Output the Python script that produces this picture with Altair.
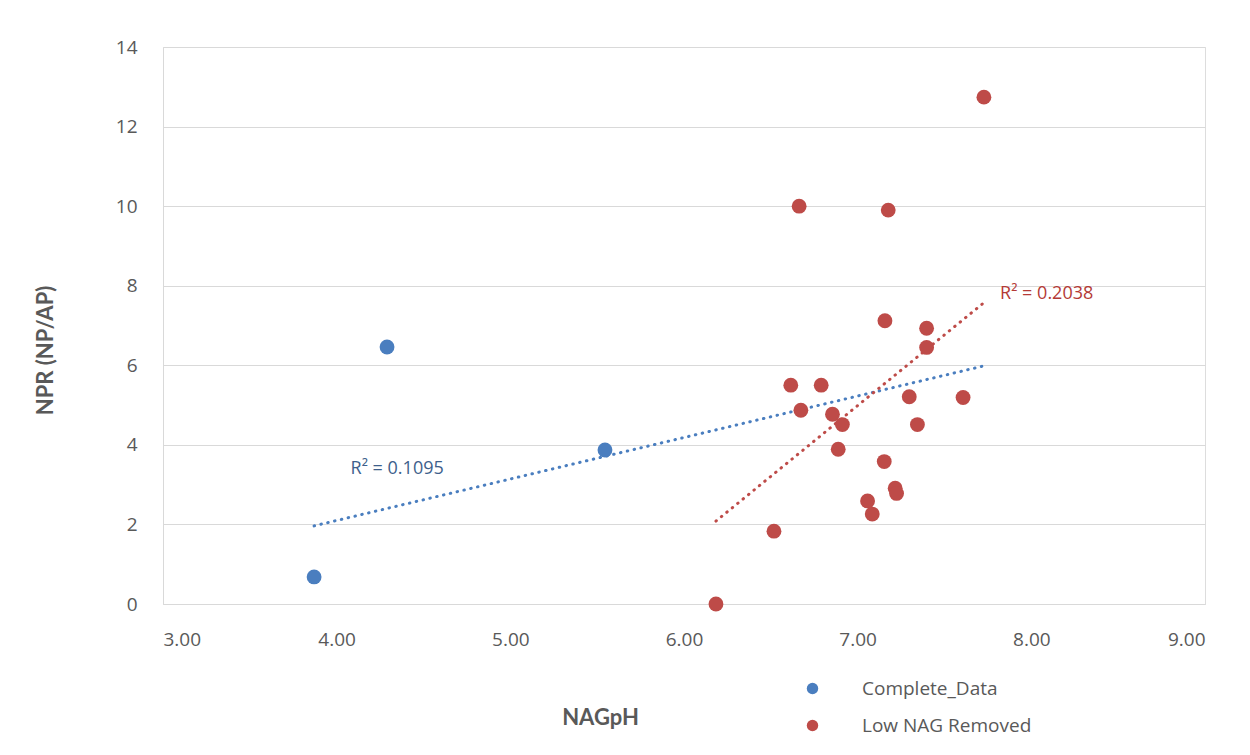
import altair as alt
import pandas as pd

# Complete_Data points visible in blue (the low-NAG samples)
blue_x = [3.87, 4.29, 5.545]
blue_y = [0.68, 6.46, 3.87]

# Low NAG Removed points (red)
red_x = [6.663, 7.176, 7.157, 7.397, 7.397, 7.727, 6.615, 6.790, 6.673, 6.855, 6.912,
         6.888, 7.297, 7.607, 7.344, 7.153, 7.216, 7.224, 7.057, 7.084, 6.518, 6.184]
red_y = [10.0, 9.9, 7.12, 6.93, 6.45, 12.74, 5.50, 5.50, 4.87, 4.77, 4.51,
         3.89, 5.21, 5.19, 4.51, 3.58, 2.91, 2.78, 2.59, 2.26, 1.83, 0.0]

series_names = ["Complete_Data", "Low NAG Removed"]
series_colors = ["#4A7EBF", "#BE4B48"]

label_text = ["R² = 0.1095", "R² = 0.2038"]
label_x = [4.08, 7.82]
label_y = [3.4, 7.8]
label_color = ["#3E5F8C", "#B43A36"]

pts = pd.DataFrame({
    "NAGpH": blue_x + red_x,
    "NPR": blue_y + red_y,
    "series": [series_names[0]] * len(blue_x) + [series_names[1]] * len(red_x),
})
labels = pd.DataFrame({"t": label_text, "x": label_x, "y": label_y, "c": label_color})

FONT = "Open Sans"
GRAY = "#595959"

xscale = alt.Scale(domain=[3, 9], nice=False, zero=False)
yscale = alt.Scale(domain=[0, 14], nice=False)

base = alt.Chart(pts)

points = base.mark_circle(size=220, opacity=1).encode(
    x=alt.X("NAGpH:Q", scale=xscale,
            axis=alt.Axis(values=[3, 4, 5, 6, 7, 8, 9], format=".2f", grid=False,
                          ticks=False, domain=True, domainColor="#D9D9D9",
                          labelFont=FONT, labelFontSize=19, labelColor=GRAY,
                          labelPadding=26, title="NAGpH", titleFont="Lato",
                          titleFontSize=22, titleFontWeight="bold", titleColor=GRAY,
                          titleX=437, titleY=113, titleAlign="center",
                          titleBaseline="middle")),
    y=alt.Y("NPR:Q", scale=yscale,
            axis=alt.Axis(values=list(range(0, 15, 2)), grid=True, gridColor="#D9D9D9",
                          ticks=False, domain=True, domainColor="#D9D9D9",
                          labelFont=FONT, labelFontSize=19, labelColor=GRAY,
                          labelPadding=26, title="NPR (NP/AP)", titleFont="Lato",
                          titleFontSize=22, titleFontWeight="bold", titleColor=GRAY,
                          titleX=-118, titleY=303, titleAngle=-90, titleAlign="center",
                          titleBaseline="middle")),
    color=alt.Color("series:N",
                    scale=alt.Scale(domain=series_names, range=series_colors),
                    legend=alt.Legend(title=None, orient="none", legendX=640, legendY=632,
                                      symbolType="circle", symbolSize=130,
                                      labelFont=FONT, labelFontSize=19, labelColor=GRAY,
                                      labelOffset=40, rowPadding=17, labelLimit=0,
                                      symbolStrokeWidth=0)),
)

trend_all = base.transform_regression("NAGpH", "NPR").mark_line(
    color=series_colors[0], strokeWidth=3, strokeDash=[0.5, 6.5], strokeCap="round"
).encode(x=alt.X("NAGpH:Q", scale=xscale), y=alt.Y("NPR:Q", scale=yscale))

trend_red = base.transform_filter(
    alt.datum.series == series_names[1]
).transform_regression("NAGpH", "NPR").mark_line(
    color=series_colors[1], strokeWidth=3, strokeDash=[0.5, 6.5], strokeCap="round"
).encode(x=alt.X("NAGpH:Q", scale=xscale), y=alt.Y("NPR:Q", scale=yscale))

text = alt.Chart(labels).mark_text(font=FONT, fontSize=18, align="left",
                                   baseline="middle").encode(
    x=alt.X("x:Q", scale=xscale), y=alt.Y("y:Q", scale=yscale),
    text="t:N", color=alt.Color("c:N", scale=None),
)

chart = alt.layer(trend_all, trend_red, points, text).properties(
    width=1042, height=557,
    autosize=alt.AutoSizeParams(type="none"),
    padding={"left": 163, "top": 47, "right": 45, "bottom": 151},
).configure_view(stroke=None).configure(background="white")

chart.save("out.html", embed_options={"renderer": "svg", "actions": False})
